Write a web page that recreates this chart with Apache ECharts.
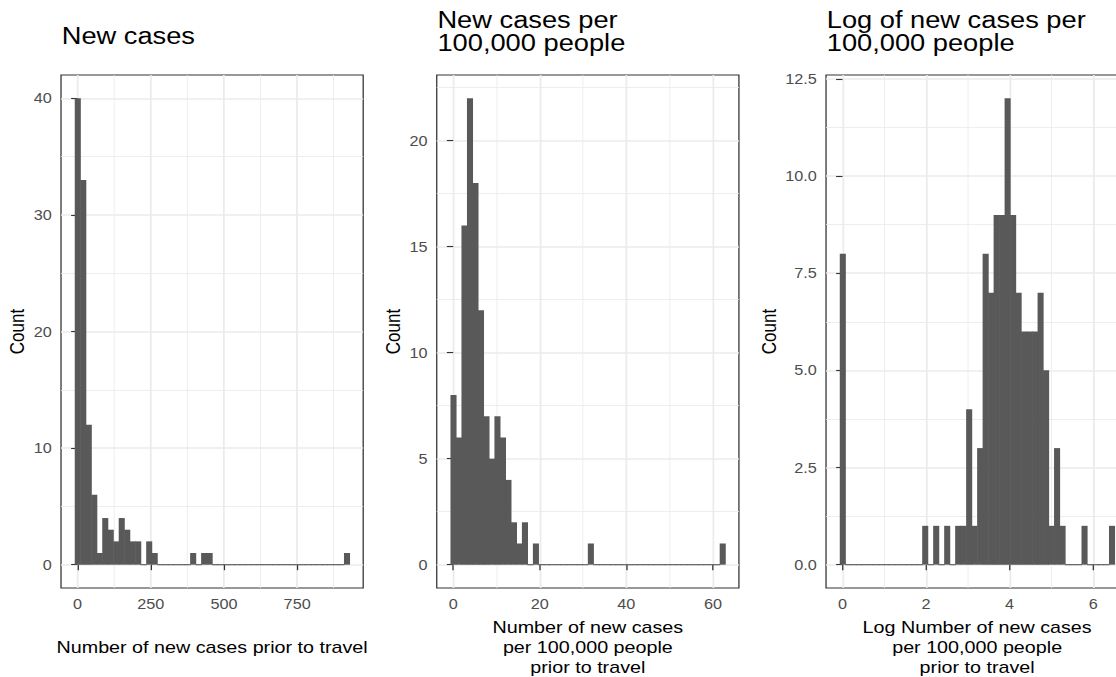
<!DOCTYPE html>
<html><head><meta charset="utf-8">
<script src="https://cdn.jsdelivr.net/npm/echarts@6/dist/echarts.min.js"></script>
<style>
html,body{margin:0;padding:0;background:#fff;overflow:hidden;}
#wrap{width:1116px;height:677px;overflow:hidden;position:relative;background:#fff;}
#chart{width:962px;height:677px;transform:scaleX(1.16);transform-origin:0 0;}
</style></head><body>
<div id="wrap"><div id="chart"></div></div>
<script>
// ---- text ----
const panelTitles = ['New cases', 'New cases per\n100,000 people', 'Log of new cases per\n100,000 people'];
const xTitles = ['Number of new cases prior to travel', 'Number of new cases\nper 100,000 people\nprior to travel', 'Log Number of new cases\nper 100,000 people\nprior to travel'];
const yTitle = 'Count';

// ---- histogram bins (50 bins each): centre of first bin and bin width ----
const binStart = [0, 0, 0];
const binWidth = [18.76, 1.2694, 0.1315];

const countsNew = [40,33,12,6,1,4,3,2,4,3, 2,2,0,2,1,0,0,0,0,0, 0,1,0,1,1,0,0,0,0,0, 0,0,0,0,0,0,0,0,0,0, 0,0,0,0,0,0,0,0,0,1];
const countsPer100k = [8,6,16,22,18,12,7,5,7,6, 4,2,1,2,0,1,0,0,0,0, 0,0,0,0,0,1,0,0,0,0, 0,0,0,0,0,0,0,0,0,0, 0,0,0,0,0,0,0,0,0,1];
const countsLog = [8,0,0,0,0,0,0,0,0,0, 0,0,0,0,0,1,0,1,0,1, 0,1,1,4,1,3,8,7,9,9, 12,9,7,6,6,6,7,5,1,3, 1,0,0,0,1,0,0,0,0,1];

// ---- ticks ----
const xTicks = [[0,250,500,750],[0,20,40,60],[0,2,4,6]];
const xMinor = [[125,375,625,875],[10,30,50],[1,3,5]];
const yTicks = [[0,10,20,30,40],[0,5,10,15,20],[0,2.5,5,7.5,10,12.5]];
const yMinor = [[5,15,25,35],[2.5,7.5,12.5,17.5,22.5],[1.25,3.75,6.25,8.75,11.25]];
const yDecimals = [0,0,1];

const allCounts = [countsNew, countsPer100k, countsLog];
const FONT = "'Liberation Sans', Arial, sans-serif";
const gridLeft = [52.6, 376.5, 712.1];
const gridW = 260.5;
const xNameGap = [49, 28.5, 28.5];
const yNameGap = [29, 29, 41];
const titleTop = [23.5, 7.8, 7.8];

function renderItem(params, api) {
  const x0 = api.value(0), x1 = api.value(1), c = api.value(2);
  const p0 = api.coord([x0, 0]);
  const p1 = api.coord([x1, c]);
  let y = p1[1], h = p0[1] - p1[1];
  if (h < 1.1) { y = p0[1] - 0.55; h = 1.1; }
  return {type:'rect', shape:{x:p0[0], y:y, width:p1[0]-p0[0] + 0.5, height:h},
          style:{fill:'#595959'}};
}

const grids = [], xAxes = [], yAxes = [], series = [], titles = [];
for (let i = 0; i < 3; i++) {
  const counts = allCounts[i];
  const w = binWidth[i], s0 = binStart[i];
  const lo = s0 - w/2, hi = s0 + (counts.length - 0.5) * w;
  const xpad = (hi - lo) * 0.05;
  const ymax = Math.max.apply(null, counts);
  const xmin = lo - xpad, xmax = hi + xpad;
  const ymin = -ymax * 0.05, ymaxA = ymax * 1.05;
  grids.push({left: gridLeft[i], width: gridW, top: 75, bottom: 89, show: true,
              outerBoundsMode: 'none', containLabel: false,
              borderColor: '#333333', borderWidth: 1.1, backgroundColor: 'transparent'});
  titles.push({text: panelTitles[i], left: gridLeft[i] + 0.6, top: titleTop[i], padding: 0,
               textStyle: {fontFamily: FONT, fontSize: 23.5, fontWeight: 'normal', color: '#000', lineHeight: 23.5}});
  xAxes.push({type:'value', gridIndex:i, min:xmin, max:xmax, position:'bottom',
    axisLine:{show:false},
    axisTick:{show:true, length:5.5, customValues:xTicks[i], lineStyle:{color:'#333333', width:1.1}},
    axisLabel:{customValues:xTicks[i], color:'#4D4D4D', fontSize:14, margin:8.5, fontFamily:FONT},
    splitLine:{show:true, lineStyle:{color:'#EBEBEB', width:1.5}},
    name:xTitles[i], nameLocation:'middle', nameGap:xNameGap[i],
    nameTextStyle:{color:'#000', fontSize:17, lineHeight:20.3, fontFamily:FONT}});
  xAxes.push({type:'value', gridIndex:i, min:xmin, max:xmax, position:'top',
    axisLine:{show:false}, axisTick:{show:false, customValues:xMinor[i]},
    axisLabel:{show:false, customValues:xMinor[i]},
    splitLine:{show:true, lineStyle:{color:'#EBEBEB', width:0.8}}});
  const dec = yDecimals[i];
  yAxes.push({type:'value', gridIndex:i, min:ymin, max:ymaxA, position:'left',
    axisLine:{show:false},
    axisTick:{show:true, length:5.5, customValues:yTicks[i], lineStyle:{color:'#333333', width:1.1}},
    axisLabel:{customValues:yTicks[i], color:'#4D4D4D', fontSize:14, margin:8, fontFamily:FONT,
               formatter: v => Number(v).toFixed(dec)},
    splitLine:{show:true, lineStyle:{color:'#EBEBEB', width:1.5}},
    name:yTitle, nameLocation:'middle', nameGap:yNameGap[i], nameRotate:90,
    nameTextStyle:{color:'#000', fontSize:17, fontFamily:FONT}});
  yAxes.push({type:'value', gridIndex:i, min:ymin, max:ymaxA, position:'right',
    axisLine:{show:false}, axisTick:{show:false, customValues:yMinor[i]},
    axisLabel:{show:false, customValues:yMinor[i]},
    splitLine:{show:true, lineStyle:{color:'#EBEBEB', width:0.8}}});
  series.push({type:'custom', xAxisIndex:2*i, yAxisIndex:2*i, renderItem: renderItem, clip:false,
    encode:{x:[0,1], y:2},
    data: counts.map((c, k) => [s0 + (k - 0.5) * w, s0 + (k + 0.5) * w, c])});
}

const chart = echarts.init(document.getElementById('chart'), null, {renderer:'svg'});
chart.setOption({animation:false, backgroundColor:'#fff', title:titles, grid:grids,
                 xAxis:xAxes, yAxis:yAxes, series:series});
</script></body></html>
